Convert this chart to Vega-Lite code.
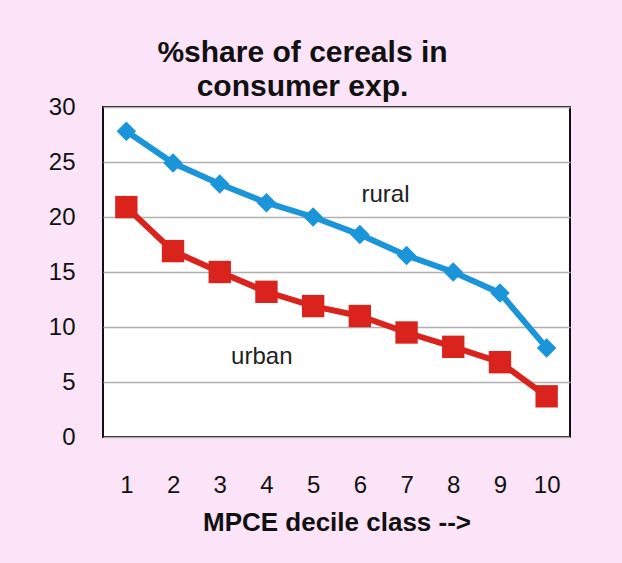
{
  "$schema": "https://vega.github.io/schema/vega-lite/v6.json",
  "width": 467,
  "height": 330,
  "autosize": {"type": "none"},
  "padding": {"left": 103, "top": 107, "right": 52, "bottom": 126},
  "background": "#FCE4F8",
  "config": {
    "font": "Liberation Sans",
    "view": {"fill": "white", "stroke": "#111111", "strokeWidth": 2}
  },
  "title": {
    "text": ["%share of cereals in", "consumer exp."],
    "fontSize": 30,
    "fontWeight": "bold",
    "color": "#111111",
    "lineHeight": 34,
    "anchor": "middle",
    "dx": -34,
    "offset": -7
  },
  "data": {
    "values": [
      {"decile": 1, "share": 27.8, "area": "rural"},
      {"decile": 2, "share": 24.9, "area": "rural"},
      {"decile": 3, "share": 23.0, "area": "rural"},
      {"decile": 4, "share": 21.3, "area": "rural"},
      {"decile": 5, "share": 20.0, "area": "rural"},
      {"decile": 6, "share": 18.4, "area": "rural"},
      {"decile": 7, "share": 16.5, "area": "rural"},
      {"decile": 8, "share": 15.0, "area": "rural"},
      {"decile": 9, "share": 13.1, "area": "rural"},
      {"decile": 10, "share": 8.1, "area": "rural"},
      {"decile": 1, "share": 20.9, "area": "urban"},
      {"decile": 2, "share": 16.9, "area": "urban"},
      {"decile": 3, "share": 15.0, "area": "urban"},
      {"decile": 4, "share": 13.2, "area": "urban"},
      {"decile": 5, "share": 11.9, "area": "urban"},
      {"decile": 6, "share": 11.0, "area": "urban"},
      {"decile": 7, "share": 9.5, "area": "urban"},
      {"decile": 8, "share": 8.2, "area": "urban"},
      {"decile": 9, "share": 6.8, "area": "urban"},
      {"decile": 10, "share": 3.7, "area": "urban"}
    ]
  },
  "encoding": {
    "x": {
      "field": "decile",
      "type": "quantitative",
      "scale": {"domain": [0.5, 10.5], "nice": false, "zero": false},
      "axis": {
        "values": [1, 2, 3, 4, 5, 6, 7, 8, 9, 10],
        "title": "MPCE decile class -->",
        "titleFontSize": 26,
        "titleFontWeight": "bold",
        "titleColor": "#111111",
        "titlePadding": 12,
        "labelFontSize": 24,
        "labelColor": "#111111",
        "labelPadding": 36,
        "ticks": false,
        "domain": false,
        "grid": false
      }
    },
    "y": {
      "field": "share",
      "type": "quantitative",
      "scale": {"domain": [0, 30], "nice": false},
      "axis": {
        "values": [0, 5, 10, 15, 20, 25, 30],
        "title": null,
        "labelFontSize": 24,
        "labelColor": "#111111",
        "labelPadding": 28,
        "ticks": false,
        "domain": false,
        "grid": true,
        "gridColor": "#B0B0B0",
        "gridWidth": 1.5
      }
    },
    "color": {
      "field": "area",
      "type": "nominal",
      "scale": {"domain": ["rural", "urban"], "range": ["#1B95D9", "#D9231C"]},
      "legend": null
    }
  },
  "layer": [
    {
      "mark": {"type": "line", "strokeWidth": 6}
    },
    {
      "transform": [{"filter": "datum.area == 'rural'"}],
      "mark": {"type": "point", "shape": "diamond", "filled": true, "opacity": 1, "size": 380}
    },
    {
      "transform": [{"filter": "datum.area == 'urban'"}],
      "mark": {"type": "point", "shape": "square", "filled": true, "opacity": 1, "size": 500}
    },
    {
      "data": {"values": [{"decile": 6.55, "share": 22.0, "label": "rural"}, {"decile": 3.9, "share": 7.3, "label": "urban"}]},
      "mark": {"type": "text", "fontSize": 24, "align": "center", "baseline": "middle"},
      "encoding": {
        "x": {"field": "decile", "type": "quantitative"},
        "y": {"field": "share", "type": "quantitative"},
        "text": {"field": "label"},
        "color": {"value": "#222222"}
      }
    }
  ]
}
